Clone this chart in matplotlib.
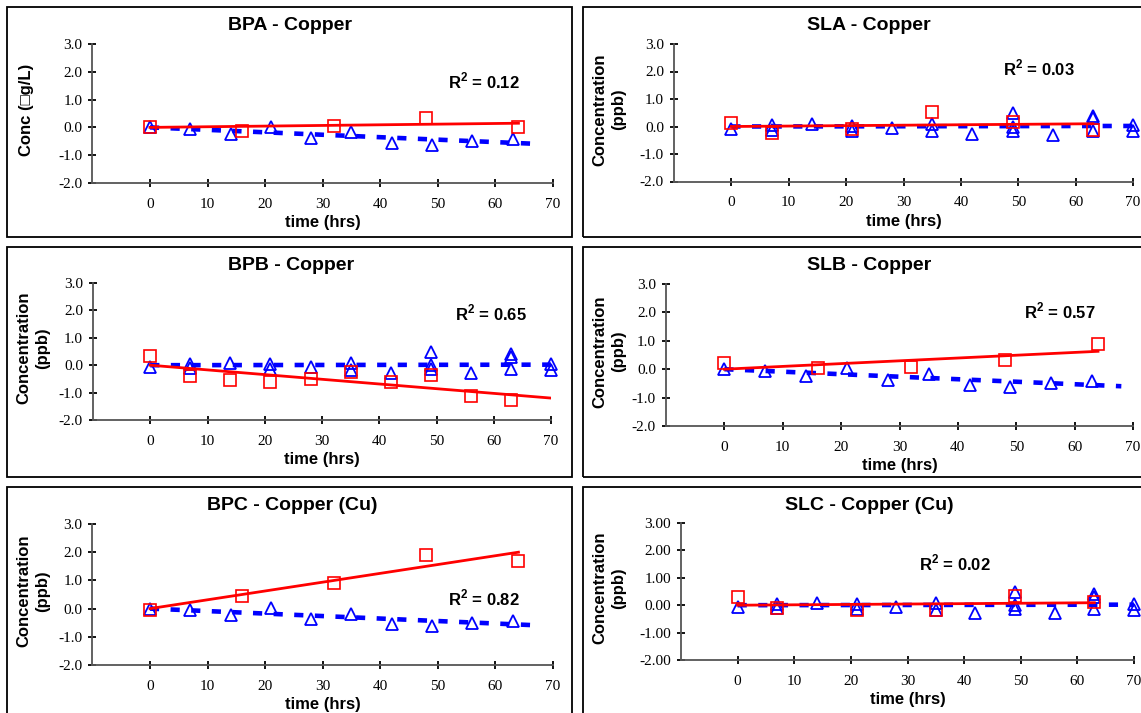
import matplotlib
matplotlib.use("Agg")
import matplotlib.pyplot as plt
from matplotlib.patches import Rectangle
from matplotlib.ticker import FormatStrFormatter

plt.rcParams['font.family'] = 'Liberation Serif'
plt.rcParams['axes.unicode_minus'] = False
plt.rcParams['mathtext.fontset'] = 'custom'
plt.rcParams['mathtext.rm'] = 'Liberation Sans:bold'
plt.rcParams['mathtext.bf'] = 'Liberation Sans:bold'

# ---- data ----
# blank (triangle) series, group A: BPA, SLB, BPC
tri_a_t = [0, 7, 14, 21, 28, 35, 42, 49, 56, 63]
tri_a_y = [0.0, -0.06, -0.24, 0.03, -0.38, -0.18, -0.55, -0.62, -0.50, -0.43]
tri_a_fit_t = [0, 68]
tri_a_fit_y = [0.0, -0.60]

# blank (triangle) series, group B: BPB, SLA, SLC (replicates)
tri_b_t = [0, 7, 7, 14, 21, 21, 28, 35, 35, 42, 49, 49, 49, 56, 63, 63, 63, 70, 70]
tri_b_y = [-0.08, 0.05, -0.12, 0.08, 0.03, -0.15, -0.05, 0.08, -0.18, -0.28,
           0.48, 0.0, -0.15, -0.30, 0.40, 0.30, -0.15, 0.06, -0.18]
tri_b_fit_t = [0, 70]
tri_b_fit_y = [0.0, 0.02]

# sample (square) series
bpa_t = [0, 16, 32, 48, 64]
bpa_y = [0.0, -0.14, 0.05, 0.33, 0.0]
bpa_fit_t, bpa_fit_y = [0, 64], [0.0, 0.15]

sla_t = [0, 7, 21, 35, 49, 63]
sla_y = [0.12, -0.25, -0.08, 0.52, 0.15, -0.12]
sla_fit_t, sla_fit_y = [0, 63], [0.0, 0.10]

bpb_t = [0, 7, 14, 21, 28, 35, 42, 49, 56, 63]
bpb_y = [0.33, -0.38, -0.53, -0.62, -0.50, -0.23, -0.60, -0.35, -1.12, -1.27]
bpb_fit_t, bpb_fit_y = [0, 70], [0.0, -1.20]

slb_t = [0, 16, 32, 48, 64]
slb_y = [0.22, 0.04, 0.08, 0.32, 0.90]
slb_fit_t, slb_fit_y = [0, 64], [0.0, 0.63]

bpc_t = [0, 16, 32, 48, 64]
bpc_y = [-0.05, 0.45, 0.92, 1.90, 1.70]
bpc_fit_t, bpc_fit_y = [0, 64], [0.0, 2.00]

slc_t = [0, 7, 21, 35, 49, 63]
slc_y = [0.30, -0.09, -0.19, -0.19, 0.35, 0.10]
slc_fit_t, slc_fit_y = [0, 63], [0.0, 0.09]

titles = ['BPA - Copper', 'SLA - Copper', 'BPB - Copper', 'SLB - Copper',
          'BPC - Copper (Cu)', 'SLC - Copper (Cu)']
r2_labels = ['0.12', '0.03', '0.65', '0.57', '0.82', '0.02']
ylabels = ['Conc (\u25a1g/L)', 'Concentration\n(ppb)', 'Concentration\n(ppb)',
           'Concentration\n(ppb)', 'Concentration\n(ppb)', 'Concentration\n(ppb)']
x_ticks = [0, 10, 20, 30, 40, 50, 60, 70]
y_ticks = [-2, -1, 0, 1, 2, 3]

W, H = 1141, 713
fig = plt.figure(figsize=(W / 100, H / 100), dpi=100)


def px_axes(x0, y0, x1, y1):
    return fig.add_axes([x0 / W, 1 - y1 / H, (x1 - x0) / W, (y1 - y0) / H])


# panel frames (right column and bottom row run off the picture)
for (x0, y0, x1, y1) in [(7, 7, 572, 237), (583, 7, 1170, 237),
                         (7, 247, 572, 477), (583, 247, 1170, 477),
                         (7, 487, 572, 740), (583, 487, 1170, 740)]:
    fig.patches.append(Rectangle((x0 / W, 1 - y1 / H), (x1 - x0) / W, (y1 - y0) / H,
                                 transform=fig.transFigure, fill=False,
                                 lw=1.3, ec='black'))

panels = [
    # axes box px, squares, red fit, triangles, blue fit, R2 pos, title x/y, ylabel x, fmt
    dict(box=(92.4, 44, 553, 183), sq=(bpa_t, bpa_y), fit=(bpa_fit_t, bpa_fit_y),
         tri=(tri_a_t, tri_a_y), bfit=(tri_a_fit_t, tri_a_fit_y), r2=(58, 1.67),
         tpos=(290, 26), ylx=26, fmt='%.1f'),
    dict(box=(674, 44, 1133, 181.5), sq=(sla_t, sla_y), fit=(sla_fit_t, sla_fit_y),
         tri=(tri_b_t, tri_b_y), bfit=(tri_b_fit_t, tri_b_fit_y), r2=(53.6, 2.13),
         tpos=(869, 26), ylx=609, fmt='%.1f'),
    dict(box=(93, 283, 551, 420), sq=(bpb_t, bpb_y), fit=(bpb_fit_t, bpb_fit_y),
         tri=(tri_b_t, tri_b_y), bfit=(tri_b_fit_t, tri_b_fit_y), r2=(59.5, 1.89),
         tpos=(291, 265), ylx=33, fmt='%.1f'),
    dict(box=(666, 284, 1133, 426), sq=(slb_t, slb_y), fit=(slb_fit_t, slb_fit_y),
         tri=(tri_a_t, tri_a_y), bfit=(tri_a_fit_t, tri_a_fit_y), r2=(57.4, 2.06),
         tpos=(869, 265), ylx=609, fmt='%.1f'),
    dict(box=(92.4, 524, 553, 665), sq=(bpc_t, bpc_y), fit=(bpc_fit_t, bpc_fit_y),
         tri=(tri_a_t, tri_a_y), bfit=(tri_a_fit_t, tri_a_fit_y), r2=(58, 0.39),
         tpos=(292, 505), ylx=33, fmt='%.1f'),
    dict(box=(681, 523, 1134, 660), sq=(slc_t, slc_y), fit=(slc_fit_t, slc_fit_y),
         tri=(tri_b_t, tri_b_y), bfit=(tri_b_fit_t, tri_b_fit_y), r2=(38.4, 1.52),
         tpos=(869, 505), ylx=609, fmt='%.2f'),
]

for i, p in enumerate(panels):
    ax = px_axes(*p['box'])
    ax.set_facecolor('none')

    ax.plot(p['bfit'][0], p['bfit'][1], color='#0000ff', lw=3.3, dashes=(2.0, 2.5),
            dash_capstyle='butt', zorder=2)
    ax.plot(p['tri'][0], p['tri'][1], ls='none', marker='^', ms=9, mfc='none',
            mec='#0000ff', mew=1.3, clip_on=False, zorder=3)
    ax.plot(p['fit'][0], p['fit'][1], color='#ff0000', lw=2, zorder=4)
    ax.plot(p['sq'][0], p['sq'][1], ls='none', marker='s', ms=9.3, mfc='none',
            mec='#ff0000', mew=1.2, clip_on=False, zorder=5)

    ax.set_xlim(-10, 70)
    ax.set_ylim(-2, 3)
    ax.set_xticks(x_ticks)
    ax.set_yticks(y_ticks)
    ax.yaxis.set_major_formatter(FormatStrFormatter(p['fmt']))
    ax.tick_params(direction='inout', length=5.5, width=1.3, color='black',
                   labelsize=11)
    ax.tick_params(axis='x', pad=8)
    ax.tick_params(axis='y', pad=4.5)
    for s in ['top', 'right']:
        ax.spines[s].set_visible(False)
    for s in ['left', 'bottom']:
        ax.spines[s].set_linewidth(1.3)
        ax.spines[s].set_color('#555555')

    ax.set_xlabel('time (hrs)', family='Liberation Sans', fontweight='bold',
                  fontsize=12, labelpad=3)
    ax.text(p['r2'][0], p['r2'][1], r'R$^{2}$ = ' + r2_labels[i],
            family='Liberation Sans', fontweight='bold', fontsize=12,
            ha='center', va='center')

    x0, y0, x1, y1 = p['box']
    fig.text(p['tpos'][0] / W, 1 - p['tpos'][1] / H, titles[i],
             family='Liberation Sans', fontweight='bold', fontsize=14,
             ha='center', va='center')
    fig.text(p['ylx'] / W, 1 - ((y0 + y1) / 2 - 3.5) / H, ylabels[i],
             family='Liberation Sans', fontweight='bold', fontsize=12,
             rotation=90, ha='center', va='center', linespacing=1.3,
             multialignment='center')

fig.savefig('out.png', dpi=100)
